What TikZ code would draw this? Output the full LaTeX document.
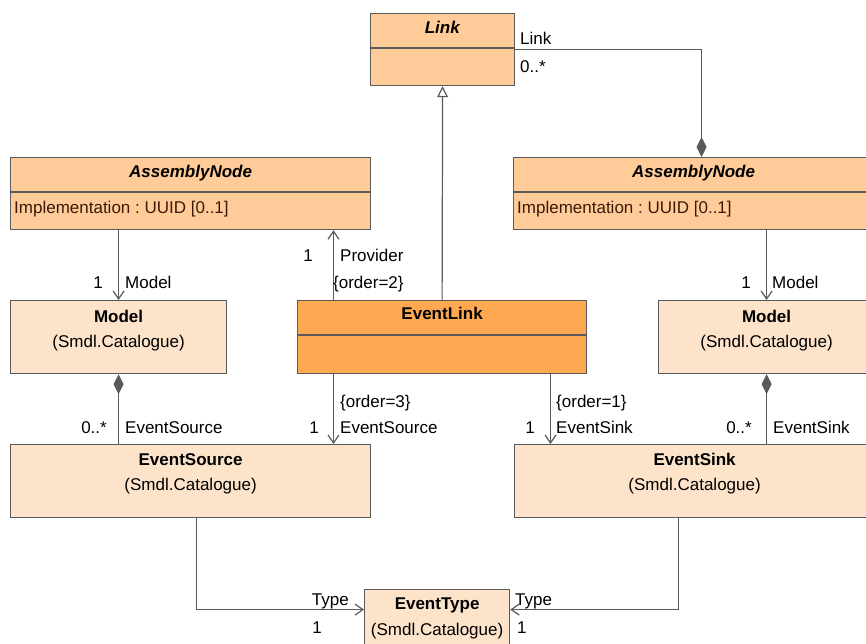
\documentclass[tikz,border=0pt]{standalone}
\usepackage{fontspec}
\setmainfont{Liberation Sans}
\usetikzlibrary{arrows.meta}
\frenchspacing

\definecolor{lineC}{HTML}{5A5A5A}
\definecolor{absFill}{HTML}{FFCC99}
\definecolor{linkFill}{HTML}{FFA852}
\definecolor{refFill}{HTML}{FCE3CA}
\definecolor{attrText}{HTML}{3C1A0A}

\tikzset{
  umlbox/.style={draw=lineC, line width=1.2pt, anchor=north west, inner sep=0pt},
  absbox/.style={umlbox, fill=absFill},
  linkbox/.style={umlbox, fill=linkFill},
  refbox/.style={umlbox, fill=refFill},
  divider/.style={draw=lineC, line width=1.2pt},
  txt/.style={inner sep=0pt, font=\fontsize{17}{20}\selectfont},
  ttl/.style={txt, anchor=base},
  attr/.style={txt, anchor=base west, text=attrText},
  lblw/.style={txt, anchor=base west},
  lble/.style={txt, anchor=base east},
  assoc/.style={draw=lineC, line width=1.2pt, -{Straight Barb[length=8pt,width=11pt]}},
  gen/.style={draw=lineC, line width=1.2pt, -{Triangle[open,length=11pt,width=11pt,fill=white]}},
  compstart/.style={draw=lineC, line width=1.2pt, {Diamond[length=20pt,width=10pt,fill=lineC]}-},
  compend/.style={draw=lineC, line width=1.2pt, -{Diamond[length=20pt,width=10pt,fill=lineC]}},
}

\begin{document}
\begin{tikzpicture}[x=1pt,y=-1pt]
\useasboundingbox (0,0) rectangle (866,643);
\clip (0,0) rectangle (866,643);

% class boxes
\node[absbox, minimum width=144, minimum height=72] (link) at (370,13) {};
\node[absbox, minimum width=360, minimum height=72] (an1) at (10,157) {};
\node[absbox, minimum width=360, minimum height=72] (an2) at (513,157) {};
\node[refbox, minimum width=216, minimum height=73] (model1) at (10,300) {};
\node[linkbox, minimum width=289, minimum height=73] (el) at (297,300) {};
\node[refbox, minimum width=216, minimum height=73] (model2) at (658,300) {};
\node[refbox, minimum width=360, minimum height=73] (es) at (10,444) {};
\node[refbox, minimum width=360, minimum height=73] (esk) at (514,444) {};
\node[refbox, minimum width=145, minimum height=73] (et) at (364,589) {};

% compartment dividers
\draw[divider] ([yshift=-35]link.north west) -- ([yshift=-35]link.north east);
\draw[divider] ([yshift=-35]an1.north west) -- ([yshift=-35]an1.north east);
\draw[divider] ([yshift=-35]an2.north west) -- ([yshift=-35]an2.north east);
\draw[divider] ([yshift=-35]el.north west) -- ([yshift=-35]el.north east);

% titles and attributes
\node[ttl] (linkT) at ([yshift=-20]link.north) {\textbf{\textit{Link}}};
\node[ttl] (an1T) at ([yshift=-20]an1.north) {\textbf{\textit{AssemblyNode}}};
\node[attr] (an1A) at ([xshift=4,yshift=-56]an1.north west) {Implementation : UUID [0..1]};
\node[ttl] (an2T) at ([yshift=-20]an2.north) {\textbf{\textit{AssemblyNode}}};
\node[attr] (an2A) at ([xshift=4,yshift=-56]an2.north west) {Implementation : UUID [0..1]};
\node[ttl] (model1T) at ([yshift=-22]model1.north) {\textbf{Model}};
\node[ttl] (model1S) at ([yshift=-47]model1.north) {(Smdl.Catalogue)};
\node[ttl] (elT) at ([yshift=-19]el.north) {\textbf{EventLink}};
\node[ttl] (model2T) at ([yshift=-22]model2.north) {\textbf{Model}};
\node[ttl] (model2S) at ([yshift=-47]model2.north) {(Smdl.Catalogue)};
\node[ttl] (esT) at ([yshift=-21]es.north) {\textbf{EventSource}};
\node[ttl] (esS) at ([yshift=-46]es.north) {(Smdl.Catalogue)};
\node[ttl] (eskT) at ([yshift=-21]esk.north) {\textbf{EventSink}};
\node[ttl] (eskS) at ([yshift=-46]esk.north) {(Smdl.Catalogue)};
\node[ttl] (etT) at ([yshift=-20]et.north) {\textbf{EventType}};
\node[ttl] (etS) at ([yshift=-46]et.north) {(Smdl.Catalogue)};

% connector anchor points
\coordinate (lk) at ([xshift=188.5]an2.north west);
\coordinate (pv) at ([xshift=36.5]el.north west);
\coordinate (so) at ([xshift=36.5]el.south west);
\coordinate (si) at ([xshift=253.5]el.south west);
\coordinate (s1) at ([xshift=186.5]es.south west);
\coordinate (s2) at ([xshift=164.5]esk.south west);

% connectors
\draw[gen] (el.north) -- (link.south);
\draw[compend] (link.east) -| (lk);
\draw[assoc] (an1.south -| model1.north) -- (model1.north);
\draw[assoc] (an2.south -| model2.north) -- (model2.north);
\draw[assoc] (pv) -- (pv |- an1.south);
\draw[compstart] (model1.south) -- (model1.south |- es.north);
\draw[compstart] (model2.south) -- (model2.south |- esk.north);
\draw[assoc] (so) -- (so |- es.north);
\draw[assoc] (si) -- (si |- esk.north);
\draw[assoc] (s1) |- ([yshift=16.5]et.west);
\draw[assoc] (s2) |- ([yshift=16.5]et.east);

% role names and multiplicities
\node[lblw] (l1) at (520,44) {Link};
\node[lblw] (l2) at (520,72) {0..*};
\node[lble] (l3) at (103,288) {1};
\node[lblw] (l4) at (125,288) {Model};
\node[lble] (l5) at (313,261) {1};
\node[lblw] (l6) at (340,261) {Provider};
\node[lblw] (l7) at (333,288) {\{order=2\}};
\node[lble] (l8) at (751,288) {1};
\node[lblw] (l9) at (772,288) {Model};
\node[lble] (l10) at (107,433) {0..*};
\node[lblw] (l11) at (125,433) {EventSource};
\node[lblw] (l12) at (340,407) {\{order=3\}};
\node[lble] (l13) at (319,433) {1};
\node[lblw] (l14) at (340,433) {EventSource};
\node[lblw] (l15) at (556,407) {\{order=1\}};
\node[lble] (l16) at (535,433) {1};
\node[lblw] (l17) at (556,433) {EventSink};
\node[lble] (l18) at (752,433) {0..*};
\node[lblw] (l19) at (773,433) {EventSink};
\node[lble] (l20) at (349,605) {Type};
\node[lble] (l21) at (322,633) {1};
\node[lblw] (l22) at (515,605) {Type};
\node[lblw] (l23) at (517,633) {1};
\end{tikzpicture}
\end{document}
